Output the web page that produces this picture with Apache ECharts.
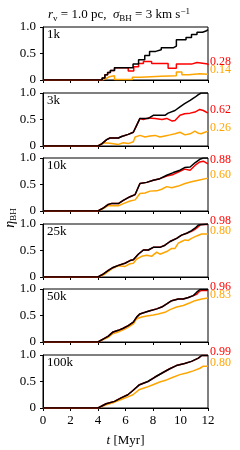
<!DOCTYPE html>
<html>
<head>
<meta charset="utf-8">
<script src="https://cdn.jsdelivr.net/npm/echarts@6/dist/echarts.min.js"></script>
<style>html,body{margin:0;padding:0;background:#fff;}#c{width:240px;height:450px;}</style>
</head>
<body>
<div id="c"></div>
<script>
// ---------- data ----------
const panelNames = ['1k', '3k', '10k', '25k', '50k', '100k'];
const redLabels = ['0.28', '0.62', '0.88', '0.98', '0.96', '0.99'];
const orangeLabels = ['0.14', '0.26', '0.60', '0.80', '0.83', '0.80'];
const xTickValues = [0, 2, 4, 6, 8, 10, 12];
const yTickValues = [0, 0.5, 1.0];

const black1k = [[0,0],[4,0],[4.3,0.04],[4.5,0.1],[4.7,0.14],[4.9,0.18],[5.2,0.23],[6.55,0.3],[6.95,0.38],[7.4,0.46],[7.75,0.54],[8.2,0.57],[8.6,0.61],[9.5,0.64],[9.7,0.76],[10.4,0.8],[10.8,0.86],[11.2,0.9],[11.6,0.93],[11.9,0.95],[12,0.96]];
const red1k = [[0,0],[4,0],[4.3,0.04],[4.5,0.1],[4.7,0.14],[4.9,0.18],[5.2,0.23],[6.2,0.17],[6.6,0.25],[6.95,0.31],[7.3,0.35],[7.9,0.31],[9.1,0.22],[9.7,0.3],[10.8,0.33],[11.2,0.3],[12,0.28]];
const orange1k = [[0,0],[4,0],[4.3,0.03],[4.6,0.06],[4.8,0.08],[5.2,0.01],[6.5,0.05],[7.1,0.07],[8.6,0.08],[9.7,0.15],[10.1,0.1],[10.6,0.11],[11.0,0.12],[11.4,0.11],[12,0.12]];

const black3k = [[0,0],[4,0],[4.27,0.04],[4.63,0.12],[4.87,0.15],[5.48,0.15],[5.72,0.18],[6.2,0.22],[6.57,0.26],[6.81,0.39],[7.05,0.52],[7.66,0.52],[8.02,0.58],[8.87,0.58],[9.1,0.62],[9.6,0.67],[9.96,0.74],[10.3,0.8],[10.7,0.86],[11.05,0.92],[11.3,0.97],[11.5,1.0],[12,1.0]];
const red3k = [[0,0],[4,0],[4.27,0.04],[4.63,0.12],[4.87,0.15],[5.48,0.15],[5.72,0.18],[6.2,0.22],[6.57,0.26],[6.81,0.39],[7.05,0.52],[7.3,0.5],[7.66,0.53],[8.15,0.52],[8.65,0.5],[9.0,0.52],[9.4,0.47],[9.6,0.48],[9.96,0.58],[10.3,0.61],[10.7,0.62],[11.05,0.64],[11.4,0.69],[11.66,0.67],[12,0.62]];
const orange3k = [[0,0],[4,0],[4.4,0.06],[4.87,0.05],[5.48,0.03],[5.84,0.06],[6.2,0.045],[6.57,0.08],[6.7,0.17],[7.05,0.2],[7.42,0.17],[7.78,0.19],[8.15,0.2],[8.5,0.17],[8.87,0.19],[9.24,0.21],[9.6,0.23],[9.96,0.26],[10.33,0.21],[10.7,0.23],[11.05,0.28],[11.3,0.24],[11.5,0.23],[11.78,0.26],[12,0.28]];

const black10k = [[0,0],[4,0],[4.4,0.06],[4.75,0.125],[5.0,0.14],[5.48,0.14],[5.84,0.2],[6.33,0.27],[6.7,0.31],[7.05,0.52],[7.54,0.54],[8.02,0.58],[8.5,0.61],[9.0,0.675],[9.48,0.725],[9.96,0.77],[10.3,0.82],[10.7,0.83],[11.05,0.91],[11.4,0.975],[11.66,1.0],[12,1.0]];
const red10k = [[0,0],[4,0],[4.4,0.06],[4.75,0.125],[5.0,0.14],[5.48,0.14],[5.84,0.2],[6.33,0.27],[6.7,0.31],[7.05,0.52],[7.54,0.54],[8.02,0.58],[8.5,0.61],[9.0,0.66],[9.48,0.69],[9.96,0.75],[10.3,0.79],[10.7,0.77],[11.05,0.86],[11.4,0.925],[11.66,0.94],[12,0.89]];
const orange10k = [[0,0],[4,0],[4.4,0.05],[4.75,0.1],[5.48,0.1],[5.84,0.14],[6.33,0.19],[6.7,0.21],[7.05,0.33],[7.42,0.34],[7.78,0.375],[8.27,0.38],[8.63,0.41],[9.0,0.46],[9.36,0.44],[9.84,0.47],[10.33,0.52],[10.8,0.55],[11.3,0.58],[12,0.62]];

const black25k = [[0,0],[4,0],[4.4,0.06],[4.75,0.125],[5.1,0.18],[5.48,0.22],[5.96,0.26],[6.33,0.31],[6.57,0.325],[6.93,0.43],[7.3,0.51],[7.66,0.51],[8.02,0.56],[8.5,0.56],[8.87,0.6],[9.24,0.67],[9.72,0.73],[10.08,0.79],[10.45,0.825],[10.8,0.875],[11.05,0.92],[11.3,0.98],[11.4,1.0],[12,1.0]];
const red25k = [[0,0],[4,0],[4.4,0.06],[4.75,0.125],[5.1,0.18],[5.48,0.22],[5.96,0.26],[6.33,0.31],[6.57,0.325],[6.93,0.43],[7.3,0.51],[7.66,0.51],[8.02,0.56],[8.5,0.56],[8.87,0.6],[9.24,0.67],[9.72,0.73],[10.08,0.79],[10.45,0.825],[10.8,0.86],[11.05,0.9],[11.3,0.95],[11.45,0.99],[12,0.99]];
const orange25k = [[0,0],[4,0],[4.4,0.04],[4.75,0.106],[5.1,0.17],[5.48,0.21],[5.96,0.2],[6.33,0.25],[6.57,0.26],[6.81,0.34],[7.18,0.39],[7.54,0.41],[7.9,0.39],[8.27,0.47],[8.5,0.43],[9.0,0.48],[9.36,0.54],[9.6,0.54],[9.84,0.64],[10.08,0.67],[10.33,0.7],[10.57,0.69],[10.8,0.73],[11.18,0.775],[11.54,0.81],[12,0.81]];

const black50k = [[0,0],[4,0],[4.4,0.06],[4.75,0.11],[5.1,0.19],[5.48,0.22],[5.84,0.26],[6.2,0.31],[6.57,0.375],[6.81,0.47],[7.05,0.53],[7.42,0.56],[7.78,0.59],[8.27,0.625],[8.63,0.66],[9.0,0.72],[9.36,0.78],[9.84,0.81],[10.2,0.81],[10.57,0.84],[10.93,0.875],[11.18,0.94],[11.42,0.99],[12,0.99]];
const red50k = [[0,0],[4,0],[4.4,0.06],[4.75,0.11],[5.1,0.19],[5.48,0.22],[5.84,0.26],[6.2,0.31],[6.57,0.375],[6.81,0.47],[7.05,0.53],[7.42,0.56],[7.78,0.59],[8.27,0.625],[8.63,0.66],[9.0,0.72],[9.36,0.78],[9.84,0.81],[10.2,0.81],[10.57,0.84],[10.93,0.875],[11.18,0.9],[11.35,0.95],[11.5,0.97],[12,0.97]];
const orange50k = [[0,0],[4,0],[4.4,0.05],[4.75,0.09],[5.1,0.16],[5.48,0.19],[5.84,0.23],[6.2,0.28],[6.57,0.34],[6.81,0.44],[7.18,0.47],[7.54,0.49],[8.02,0.51],[8.38,0.53],[8.87,0.56],[9.24,0.61],[9.72,0.66],[10.2,0.69],[10.7,0.74],[11.05,0.78],[11.54,0.81],[12,0.83]];

const black100k = [[0,0],[4,0],[4.59,0.08],[5.2,0.125],[5.68,0.19],[6.17,0.25],[6.54,0.33],[7.02,0.44],[7.63,0.5],[8.12,0.58],[8.73,0.67],[9.22,0.74],[9.7,0.8],[10.3,0.84],[10.8,0.88],[11.3,0.94],[11.54,0.99],[12,0.99]];
const red100k = [[0,0],[4,0],[4.59,0.08],[5.2,0.125],[5.68,0.19],[6.17,0.25],[6.54,0.33],[7.02,0.44],[7.63,0.5],[8.12,0.58],[8.73,0.67],[9.22,0.74],[9.7,0.8],[10.3,0.84],[10.8,0.88],[11.3,0.94],[11.54,0.99],[12,0.99]];
const orange100k = [[0,0],[4,0],[4.59,0.06],[5.2,0.11],[5.68,0.16],[6.17,0.21],[6.54,0.25],[7.02,0.35],[7.51,0.39],[8.0,0.44],[8.49,0.49],[8.98,0.53],[9.46,0.58],[9.95,0.63],[10.44,0.66],[10.93,0.7],[11.41,0.75],[11.66,0.79],[12,0.79]];

const blackSeries = [black1k, black3k, black10k, black25k, black50k, black100k];
const redSeries = [red1k, red3k, red10k, red25k, red50k, red100k];
const orangeSeries = [orange1k, orange3k, orange10k, orange25k, orange50k, orange100k];

// ---------- layout ----------
const FONT = '"Liberation Serif", "DejaVu Serif", serif';
const gridTops = [27, 93, 158, 224, 289, 355];
const GRID_LEFT = 43, GRID_W = 165, GRID_H = 53;
const BLACK = '#000000', RED = '#ff0000', ORANGE = '#ffa500';

const grids = [], xAxes = [], yAxes = [], series = [], graphics = [];
gridTops.forEach((top, i) => {
  grids.push({left: GRID_LEFT, top: top, width: GRID_W, height: GRID_H,
    show: true, borderColor: '#000', borderWidth: 1, backgroundColor: 'transparent'});
  const last = i === gridTops.length - 1;
  xAxes.push({type: 'value', gridIndex: i, min: xTickValues[0], max: xTickValues[xTickValues.length - 1], interval: 2,
    axisLine: {show: true, onZero: false, lineStyle: {color: '#000', width: 1}},
    axisTick: {show: true, inside: false, length: 3, lineStyle: {color: '#000'}},
    axisLabel: {show: last, color: '#000', fontSize: 13, fontFamily: FONT, margin: 6},
    splitLine: {show: false}});
  yAxes.push({type: 'value', gridIndex: i, min: yTickValues[0], max: yTickValues[yTickValues.length - 1], interval: 0.5,
    axisLine: {show: true, lineStyle: {color: '#000', width: 1}},
    axisTick: {show: true, inside: false, length: 3, lineStyle: {color: '#000'}},
    axisLabel: {show: true, color: '#000', fontSize: 13, fontFamily: FONT, margin: 7,
      formatter: v => v === 0 ? '0' : v.toFixed(1)},
    splitLine: {show: false}});
  const mk = (data, color, label) => ({
    type: 'line', xAxisIndex: i, yAxisIndex: i, data: data, symbol: 'none', showSymbol: false,
    step: i === 0 ? 'end' : false,
    lineStyle: {color: color, width: 1.5}, itemStyle: {color: color},
    silent: true, animation: false,
    endLabel: label ? {show: true, formatter: () => label, color: color, fontSize: 12, fontFamily: FONT,
      distance: 2, offset: [0, -3.5]} : {show: false}
  });
  series.push(mk(orangeSeries[i], ORANGE, orangeLabels[i]));
  series.push(mk(redSeries[i], RED, redLabels[i]));
  series.push(mk(blackSeries[i], BLACK, null));
  graphics.push({type: 'text', left: 47, top: top + 1, silent: true,
    style: {text: panelNames[i], fill: '#000', font: '13px ' + FONT}});
});

// title
graphics.push({type: 'text', x: 119, y: 15, silent: true,
  style: {
    text: '{i|r}{s|v}{n| = 1.0 pc,  }{i|σ}{s|BH}{n| = 3 km s}{p|−1}',
    align: 'center', verticalAlign: 'middle',
    rich: {
      n: {fontSize: 13, fontFamily: FONT, fill: '#000', lineHeight: 16},
      i: {fontSize: 13, fontFamily: FONT, fontStyle: 'italic', fill: '#000', lineHeight: 16},
      s: {fontSize: 9, fontFamily: FONT, fill: '#000', lineHeight: 9, verticalAlign: 'bottom'},
      p: {fontSize: 9, fontFamily: FONT, fill: '#000', lineHeight: 9, verticalAlign: 'top'}
    }
  }});
// y axis name
graphics.push({type: 'text', x: 10, y: 218, rotation: Math.PI / 2, silent: true,
  style: {
    text: '{i|η}{s|BH}', align: 'center', verticalAlign: 'middle',
    rich: {
      i: {fontSize: 14, fontFamily: FONT, fontStyle: 'italic', fill: '#000', lineHeight: 16},
      s: {fontSize: 9, fontFamily: FONT, fill: '#000', lineHeight: 9, verticalAlign: 'bottom'}
    }
  }});
// x axis name
graphics.push({type: 'text', x: 125.5, y: 441, silent: true,
  style: {
    text: '{i|t}{n| [Myr]}', align: 'center', verticalAlign: 'middle',
    rich: {
      n: {fontSize: 13, fontFamily: FONT, fill: '#000', lineHeight: 16},
      i: {fontSize: 13, fontFamily: FONT, fontStyle: 'italic', fill: '#000', lineHeight: 16}
    }
  }});

const chart = echarts.init(document.getElementById('c'), null, {renderer: 'canvas'});
chart.setOption({
  animation: false,
  backgroundColor: '#fff',
  grid: grids, xAxis: xAxes, yAxis: yAxes, series: series, graphic: graphics
});
</script>
</body>
</html>
